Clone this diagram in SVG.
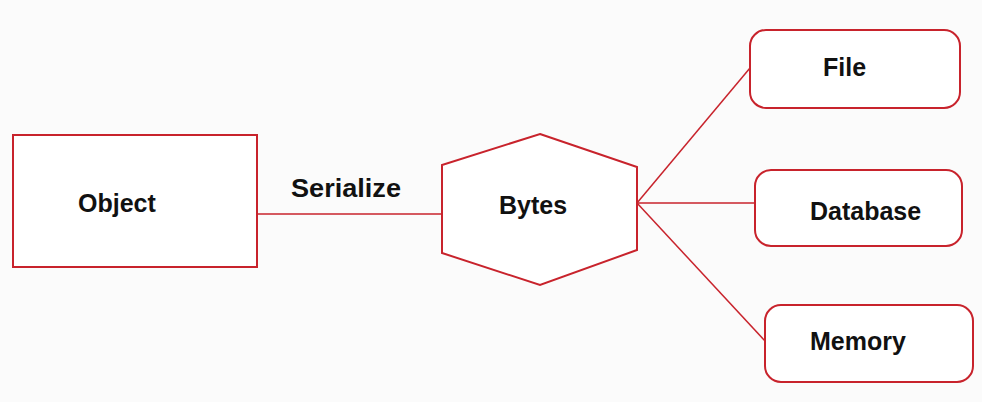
<svg xmlns="http://www.w3.org/2000/svg" width="982" height="402" viewBox="0 0 982 402">
<style>
.s{fill:#fff;stroke:#c8232c;stroke-width:2}
.l{stroke:#c8232c;stroke-width:1.5;fill:none}
text{font-family:"Liberation Sans",Arial,sans-serif;font-weight:bold;font-size:25px;fill:#111}
</style>
<rect width="982" height="402" fill="#fbfbfb"/>
<g id="connectors">
<line class="l" x1="257" y1="214" x2="442" y2="214"/>
<line class="l" x1="637" y1="203" x2="750" y2="68"/>
<line class="l" x1="637" y1="203" x2="755" y2="203"/>
<line class="l" x1="637" y1="203" x2="765" y2="341"/>
<text x="291" y="197" textLength="110" lengthAdjust="spacingAndGlyphs">Serialize</text>
</g>
<g id="object"><rect class="s" x="13" y="135" width="244" height="132"/><text x="78" y="212">Object</text></g>
<g id="bytes"><polygon class="s" points="540,134 637,167 637,250 540,285 442,253 442,165"/><text x="499" y="214">Bytes</text></g>
<g id="file"><rect class="s" x="750" y="30" width="210" height="78" rx="16"/><text x="823" y="76">File</text></g>
<g id="database"><rect class="s" x="755" y="170" width="207" height="76" rx="16"/><text x="810" y="220">Database</text></g>
<g id="memory"><rect class="s" x="765" y="305" width="208" height="77" rx="16"/><text x="810" y="350">Memory</text></g>
</svg>
